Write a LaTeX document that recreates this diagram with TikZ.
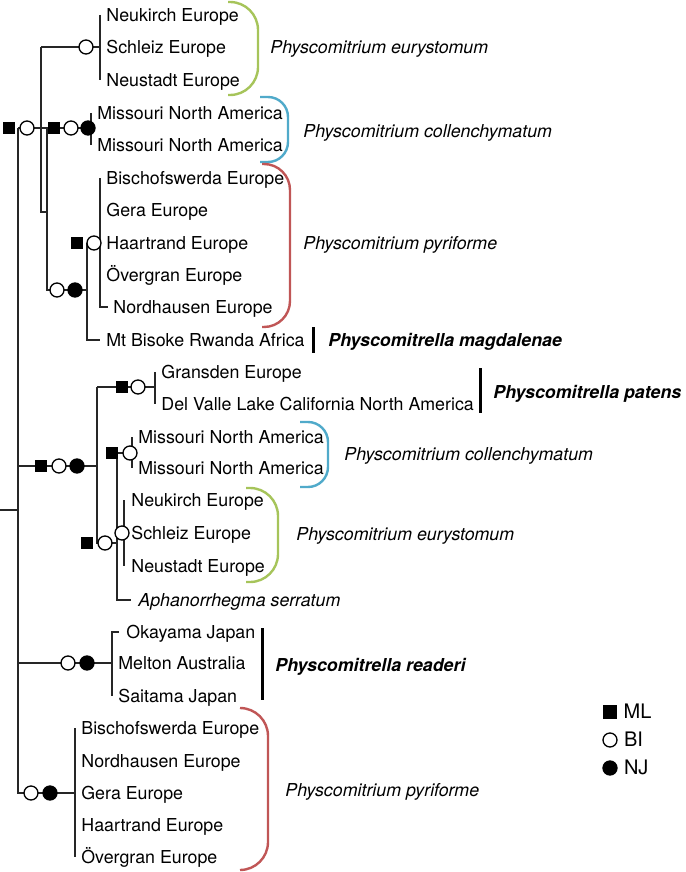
\documentclass[tikz,border=0pt]{standalone}
\usepackage{fontspec}
\setmainfont{TeX Gyre Heros}
\usetikzlibrary{positioning}
\definecolor{eurygreen}{RGB}{166,196,90}
\definecolor{collblue}{RGB}{80,170,202}
\definecolor{pyrred}{RGB}{192,86,86}

\begin{document}
\begin{tikzpicture}[
        x=0.5pt, y=-0.5pt,
        font=\fontsize{8.9}{10}\selectfont,
        leaf/.style={
          anchor=west,
          inner sep=0pt,
          text height=6.3pt,
          text depth=0pt
        },
        taxon/.style={
          leaf,
          font=\fontsize{8.9}{10}\selectfont\itshape
        },
        taxonbf/.style={
          leaf,
          font=\fontsize{8.9}{10}\selectfont\bfseries\itshape
        },
        branch/.style={
          draw=black!85,
          line width=0.6pt
        },
        ml/.style={rectangle, fill=black, minimum size=6.3pt, inner sep=0pt},
        bi/.style={circle, draw=black, fill=white, line width=0.65pt, minimum size=7pt, inner sep=0pt},
        nj/.style={circle, draw=black, fill=black, line width=0.65pt, minimum size=7pt, inner sep=0pt},
        brace/.style={line width=1.2pt},
        bar/.style={line width=1.5pt}
      ]
      \useasboundingbox (0,0) rectangle (685,872);

      % Inner nodes of the tree
      \coordinate (stub) at (0,510);
      \coordinate (root) at (18,510);
      \coordinate (nA) at (41,128);
      \coordinate (nB) at (47,212);
      \coordinate (nC) at (87,290);
      \coordinate (nD) at (97,466);
      \coordinate (nE) at (117,543);
      \coordinate (nF) at (112,663);
      \coordinate (nG) at (75,793);
      \coordinate (eu1) at (100,47);
      \coordinate (co1) at (91,128);
      \coordinate (py1) at (100,243);
      \coordinate (pa) at (155,387);
      \coordinate (co2) at (132,453);
      \coordinate (eu2) at (124,533);

      % Leaves
      \node [leaf] (neukirchA) at (106,15) {Neukirch Europe};
      \node [leaf] (schleizA) at (106,47) {Schleiz Europe};
      \node [leaf] (neustadtA) at (106,80) {Neustadt Europe};
      \node [leaf] (missouriA1) at (97,113) {Missouri North America};
      \node [leaf] (missouriA2) at (97,145) {Missouri North America};
      \node [leaf] (bischA) at (106,178) {Bischofswerda Europe};
      \node [leaf] (geraA) at (106,210) {Gera Europe};
      \node [leaf] (haartA) at (106,243) {Haartrand Europe};
      \node [leaf] (overA) at (106,275) {Övergran Europe};
      \node [leaf] (nordA) at (113,307) {Nordhausen Europe};
      \node [leaf] (bisoke) at (106,340) {Mt Bisoke Rwanda Africa};
      \node [leaf] (gransden) at (161,372) {Gransden Europe};
      \node [leaf] (delvalle) at (161,404) {Del Valle Lake California North America};
      \node [leaf] (missouriB1) at (138,437) {Missouri North America};
      \node [leaf] (missouriB2) at (138,468) {Missouri North America};
      \node [leaf] (neukirchB) at (131,500) {Neukirch Europe};
      \node [leaf] (schleizB) at (131,533) {Schleiz Europe};
      \node [leaf] (neustadtB) at (131,566) {Neustadt Europe};
      \node [taxon] (aphan) at (138,600) {Aphanorrhegma serratum};
      \node [leaf] (okayama) at (126,632) {Okayama Japan};
      \node [leaf] (melton) at (118,663) {Melton Australia};
      \node [leaf] (saitama) at (118,696) {Saitama Japan};
      \node [leaf] (bischB) at (81,728) {Bischofswerda Europe};
      \node [leaf] (nordB) at (81,761) {Nordhausen Europe};
      \node [leaf] (geraB) at (81,793) {Gera Europe};
      \node [leaf] (haartB) at (81,825) {Haartrand Europe};
      \node [leaf] (overB) at (81,857) {Övergran Europe};

      % Branches
      \draw [branch] (stub) -- (root);
      \draw [branch] (root |- nA) -- (root |- nG) -- (nG);
      \draw [branch] (root |- nA) -- (co1);
      \draw [branch] (nA |- eu1) -- (nA |- nB) -- (nB);
      \draw [branch] (nA |- eu1) -- (eu1);
      \draw [branch] (eu1 |- neukirchA) -- (eu1 |- neustadtA);
      \draw [branch] (nB |- co1) -- (nB |- nC) -- (nC);
      \draw [branch] (co1 |- missouriA1) -- (co1 |- missouriA2);
      \draw [branch] (nC |- py1) -- (nC |- bisoke) -- ([xshift=-3pt]bisoke.west);
      \draw [branch] (nC |- py1) -- (py1);
      \draw [branch] (py1 |- bischA) -- (py1 |- nordA) -- ([xshift=-2.5pt]nordA.west);
      \draw [branch] (root |- nD) -- (nD);
      \draw [branch] (nD |- pa) -- (nD |- nE) -- (nE);
      \draw [branch] (nD |- pa) -- (pa);
      \draw [branch] (pa |- gransden) -- (pa |- delvalle);
      \draw [branch] (nE |- co2) -- (nE |- aphan) -- ([xshift=-3.5pt]aphan.west);
      \draw [branch] (nE |- co2) -- (co2);
      \draw [branch] (co2 |- missouriB1) -- (co2 |- missouriB2);
      \draw [branch] (nE |- eu2) -- (eu2);
      \draw [branch] (eu2 |- neukirchB) -- (eu2 |- neustadtB);
      \draw [branch] (root |- nF) -- (nF);
      \draw [branch] ([xshift=-3.5pt]okayama.west) -- (nF |- okayama) -- (nF |- saitama);
      \draw [branch] (nG |- bischB) -- (nG |- overB);

      % Support markers
      \node [ml] (mlA) at (9,128) {};
      \node [bi] (biA) at (27,128) {};
      \node [bi] (biEu1) at (86,47) {};
      \node [ml] (mlCo1) at (54,128) {};
      \node [bi] (biCo1) at (71,128) {};
      \node [nj] (njCo1) at (88,128) {};
      \node [ml] (mlPy1) at (77,243) {};
      \node [bi] (biPy1) at (94,243) {};
      \node [bi] (biC) at (57,290) {};
      \node [nj] (njC) at (75,290) {};
      \node [ml] (mlD) at (41,466) {};
      \node [bi] (biD) at (59,466) {};
      \node [nj] (njD) at (77,466) {};
      \node [ml] (mlPa) at (122,387) {};
      \node [bi] (biPa) at (138,387) {};
      \node [ml] (mlCo2) at (112,453) {};
      \node [bi] (biCo2) at (130,453) {};
      \node [ml] (mlE) at (87,543) {};
      \node [bi] (biE) at (105,543) {};
      \node [bi] (biEu2) at (122,533) {};
      \node [bi] (biF) at (68,663) {};
      \node [nj] (njF) at (87,663) {};
      \node [bi] (biG) at (31,793) {};
      \node [nj] (njG) at (50,793) {};

      % Species brackets and bars
      \draw [brace, eurygreen, rounded corners=14pt] (228,2) -- (258,2) -- (258,95) -- (228,95);
      \draw [brace, collblue, rounded corners=10pt] (260,97) -- (288,97) -- (288,162) -- (260,162);
      \draw [brace, pyrred, rounded corners=13pt] (262,164) -- (290,164) -- (290,327) -- (262,327);
      \draw [bar] (313,327) -- (313,353);
      \draw [bar] (480,368) -- (480,413);
      \draw [brace, collblue, rounded corners=10pt] (300,422) -- (328,422) -- (328,487) -- (300,487);
      \draw [brace, eurygreen, rounded corners=14pt] (246,488) -- (278,488) -- (278,582) -- (246,582);
      \draw [bar] (262,628) -- (262,700);
      \draw [brace, pyrred, rounded corners=14pt] (240,708) -- (268,708) -- (268,870) -- (240,870);

      % Species names
      \node [taxon] (euryA) at (270,47) {Physcomitrium eurystomum};
      \node [taxon] (collA) at (303,131) {Physcomitrium collenchymatum};
      \node [taxon] (pyrA) at (303,243) {Physcomitrium pyriforme};
      \node [taxonbf] (magd) at (328,340) {Physcomitrella magdalenae};
      \node [taxonbf] (patens) at (493,392) {Physcomitrella patens};
      \node [taxon] (collB) at (344,454) {Physcomitrium collenchymatum};
      \node [taxon] (euryB) at (296,534) {Physcomitrium eurystomum};
      \node [taxonbf] (readeri) at (275,665) {Physcomitrella readeri};
      \node [taxon] (pyrB) at (285,790) {Physcomitrium pyriforme};

      % Legend
      \node [ml, minimum size=6.8pt] (mlKey) at (610,712) {};
      \node [bi] (biKey) at (610,740) {};
      \node [nj] (njKey) at (610,768) {};
      \node [leaf, font=\fontsize{10}{12}\selectfont, right=3pt of mlKey] (mlText) {ML};
      \node [leaf, font=\fontsize{10}{12}\selectfont, right=3pt of biKey] (biText) {BI};
      \node [leaf, font=\fontsize{10}{12}\selectfont, right=3pt of njKey] (njText) {NJ};

    \end{tikzpicture}
\end{document}
